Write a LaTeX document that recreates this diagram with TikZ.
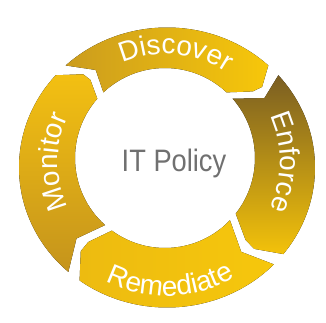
\documentclass[tikz,border=0pt]{standalone}
\usepackage{fontspec}
\setmainfont{Liberation Sans}
\usetikzlibrary{calc,decorations.text}

\definecolor{discoverL}{HTML}{CB9C1E}
\definecolor{discoverR}{HTML}{F7C70A}
\definecolor{enforceT}{HTML}{7A5E22}
\definecolor{enforceB}{HTML}{F3C20A}
\definecolor{remediateL}{HTML}{EDBB10}
\definecolor{remediateR}{HTML}{F6C70C}
\definecolor{monitorT}{HTML}{F3C012}
\definecolor{monitorB}{HTML}{C5941C}
\definecolor{policyGray}{HTML}{707070}

\newcommand\gaphalf{2.8}  % half gap between pieces
\newcommand\tipdepth{7}   % depth of tip and notch
\newcommand\cyclefont{\fontsize{28pt}{28pt}\selectfont\color{white}}

% one arrow piece of the ring, from trailing gap #1 to leading gap #2 (clockwise)
\newcommand\ringpiece[3]{%
  \fill[#3] ($(Co)+(#1-\gaphalf:148pt and 140pt)$)
    arc[start angle=#1-\gaphalf, end angle=#2+\gaphalf, x radius=148pt, y radius=140pt]
    -- ($($(Ci)+(#2+\gaphalf-\tipdepth:90pt)$)!.6!($(Co)+(#2+\gaphalf-\tipdepth:148pt and 140pt)$)$)
    -- ($($(Ci)+(#2+\gaphalf-\tipdepth:90pt)$)!.4!($(Co)+(#2+\gaphalf-\tipdepth:148pt and 140pt)$)$)
    -- ($(Ci)+(#2+\gaphalf:90pt)$)
    arc[start angle=#2+\gaphalf, end angle=#1-\gaphalf, radius=90pt]
    -- ($($(Ci)+(#1-\gaphalf-\tipdepth:90pt)$)!.5!($(Co)+(#1-\gaphalf-\tipdepth:148pt and 140pt)$)$)
    -- cycle;}

\tikzset{
  discover seg/.style={left color=discoverL, right color=discoverR},
  enforce seg/.style={top color=enforceT, bottom color=enforceB},
  remediate seg/.style={left color=remediateL, right color=remediateR},
  monitor seg/.style={top color=monitorT, bottom color=monitorB},
  ring text/.style={decorate, decoration={text along path, text align=center, text={#1}}},
  policy text/.style={text=policyGray, font=\fontsize{31pt}{31pt}\selectfont, xscale=0.88},
}

\begin{document}
\begin{tikzpicture}[x=1pt,y=1pt]
  \useasboundingbox (0,0) rectangle (326,323);
  \coordinate (Ci) at (165,165);
  \coordinate (Co) at (167,155.5);
  \coordinate (Ct) at (166,161);

  % the four arrow pieces
  \ringpiece{136}{44}{discover seg}
  \ringpiece{44}{-41}{enforce seg}
  \ringpiece{-41}{-129}{remediate seg}
  \ringpiece{231}{136}{monitor seg}

  \node (policy) at (174,160) [policy text] {IT Policy};

  % labels along the ring
  \path[ring text={|\cyclefont|Discover}] ($(Ct)+(145:108pt)$) arc[start angle=145, end angle=25, radius=108pt];
  \path[ring text={|\cyclefont|Enforce}] ($(Ct)+(60:114pt)$) arc[start angle=60, end angle=-60, radius=114pt];
  \path[ring text={|\cyclefont|Remediate}] ($(Ct)+(-148:134pt)$) arc[start angle=-148, end angle=-28, radius=134pt];
  \path[ring text={|\cyclefont|Monitor}] ($(Ct)+(240:108pt)$) arc[start angle=240, end angle=120, radius=108pt];
\end{tikzpicture}
\end{document}
